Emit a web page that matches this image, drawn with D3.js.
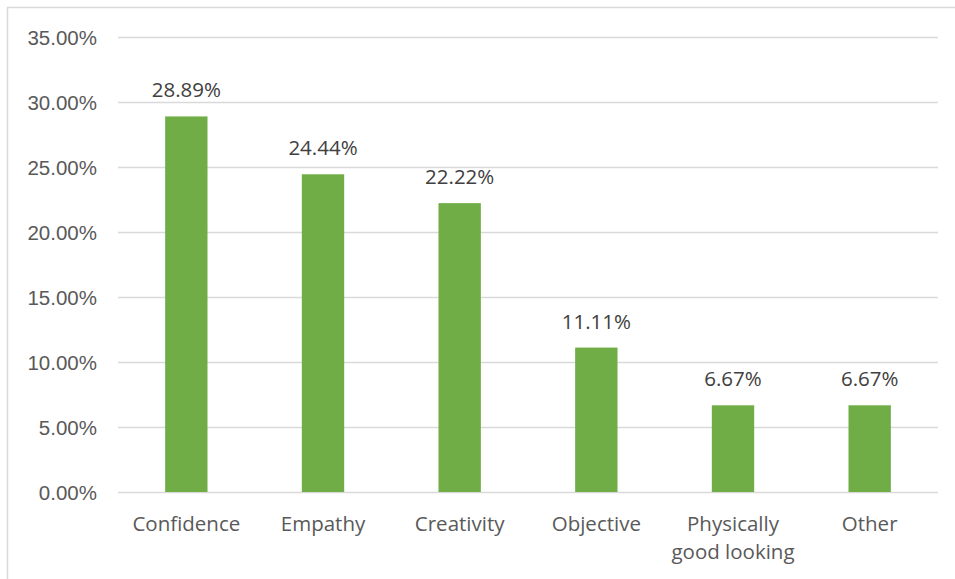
<!DOCTYPE html>
<html>
<head>
<meta charset="utf-8">
<script src="https://cdn.jsdelivr.net/npm/d3@7"></script>
<style>
  body { margin: 0; background: #fff; }
  svg { display: block; font-family: "Open Sans", sans-serif; }
</style>
</head>
<body>
<div id="chart"></div>
<script>
// Chart data
var categories = ["Confidence", "Empathy", "Creativity", "Objective", "Physically good looking", "Other"];
var values = [28.89, 24.44, 22.22, 11.11, 6.67, 6.67];
var yTicks = [0, 5, 10, 15, 20, 25, 30, 35];

var W = 955, H = 579;
var margin = {left: 118, right: 17, top: 37, bottom: 87};
var fs = '20.5px';

var svg = d3.select('#chart').append('svg').attr('width', W).attr('height', H);

// outer frame (only top and left edges fall inside the picture)
svg.append('rect').attr('x', 7.5).attr('y', 7.5).attr('width', W + 20).attr('height', H + 20)
  .attr('fill', 'none').attr('stroke', '#d9d9d9').attr('stroke-width', 1.5);

var x = d3.scaleBand().domain(categories).range([margin.left, W - margin.right]).paddingInner(0.69).paddingOuter(0.345);
var y = d3.scaleLinear().domain([0, 35]).range([H - margin.bottom, margin.top]);

// gridlines + y labels
var yAxis = d3.axisLeft(y).tickValues(yTicks).tickSize(-(W - margin.right - margin.left)).tickPadding(21)
  .tickFormat(function(d) { return d.toFixed(2) + '%'; });
var gy = svg.append('g').attr('transform', 'translate(' + margin.left + ',0)').call(yAxis);
gy.select('.domain').remove();
gy.selectAll('.tick line').attr('stroke', '#d9d9d9').attr('stroke-width', 1.5);
gy.selectAll('.tick text').attr('fill', '#595959').style('font-size', fs).attr('dy', '0.35em');

// bars
svg.selectAll('.bar').data(values).enter().append('rect').attr('class', 'bar')
  .attr('x', function(d, i) { return x(categories[i]); })
  .attr('y', function(d) { return y(d); })
  .attr('width', x.bandwidth())
  .attr('height', function(d) { return y(0) - y(d); })
  .attr('fill', '#70ad47');

// value labels
svg.selectAll('.vlabel').data(values).enter().append('text').attr('class', 'vlabel')
  .attr('x', function(d, i) { return x(categories[i]) + x.bandwidth() / 2; })
  .attr('y', function(d) { return y(d) - 19; })
  .attr('text-anchor', 'middle').attr('fill', '#404040').style('font-size', fs)
  .text(function(d) { return d.toFixed(2) + '%'; });

// category labels, wrapped to the band step
var step = x.step();
var cl = svg.selectAll('.clabel').data(categories).enter().append('text').attr('class', 'clabel')
  .attr('x', function(d) { return x(d) + x.bandwidth() / 2; })
  .attr('y', H - margin.bottom + 39)
  .attr('text-anchor', 'middle').attr('fill', '#595959').style('font-size', fs);

cl.each(function(d) {
  var t = d3.select(this), cx = +t.attr('x');
  var words = d.split(' '), line = [];
  var tspan = t.append('tspan').attr('x', cx).attr('dy', 0);
  words.forEach(function(w) {
    line.push(w);
    tspan.text(line.join(' '));
    if (tspan.node().getComputedTextLength() > step - 6 && line.length > 1) {
      line.pop();
      tspan.text(line.join(' '));
      line = [w];
      tspan = t.append('tspan').attr('x', cx).attr('dy', 28).text(w);
    }
  });
});
</script>
</body>
</html>
